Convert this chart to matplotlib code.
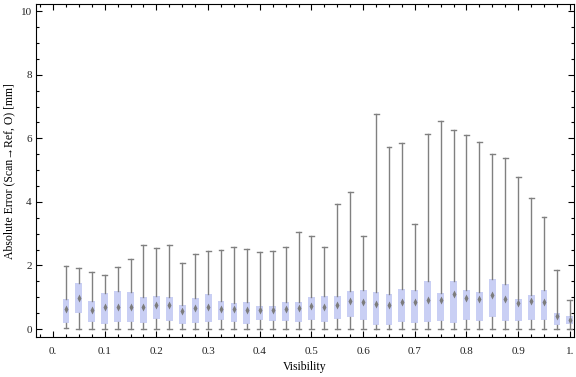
import numpy as np
import matplotlib
matplotlib.use("Agg")
import matplotlib.pyplot as plt
from matplotlib.ticker import MultipleLocator, FixedLocator

# visibility bins (box positions)
visibility = [0.025, 0.05, 0.075, 0.1, 0.125, 0.15, 0.175, 0.2, 0.225, 0.25,
              0.275, 0.3, 0.325, 0.35, 0.375, 0.4, 0.425, 0.45, 0.475, 0.5,
              0.525, 0.55, 0.575, 0.6, 0.625, 0.65, 0.675, 0.7, 0.725, 0.75,
              0.775, 0.8, 0.825, 0.85, 0.875, 0.9, 0.925, 0.95, 0.975, 1.0]

# box-whisker stats (mm)
whisker_lo = [0.04, 0, 0, 0, 0, 0, 0, 0, 0, 0,
              0, 0, 0, 0, 0, 0, 0, 0, 0, 0,
              0, 0, 0, 0, 0, 0, 0, 0, 0, 0,
              0, 0, 0, 0, 0, 0, 0, 0, 0, 0]
q1 = [0.20, 0.51, 0.21, 0.17, 0.21, 0.23, 0.18, 0.31, 0.26, 0.17,
      0.20, 0.23, 0.29, 0.22, 0.17, 0.29, 0.25, 0.25, 0.22, 0.28,
      0.22, 0.32, 0.38, 0.28, 0.13, 0.13, 0.23, 0.20, 0.21, 0.26,
      0.20, 0.29, 0.27, 0.38, 0.26, 0.26, 0.29, 0.29, 0.14, 0.17]
median = [0.63, 0.99, 0.60, 0.68, 0.70, 0.70, 0.71, 0.77, 0.75, 0.57,
          0.66, 0.68, 0.64, 0.63, 0.59, 0.60, 0.59, 0.63, 0.67, 0.74,
          0.71, 0.75, 0.87, 0.86, 0.80, 0.75, 0.86, 0.86, 0.93, 0.92,
          1.09, 0.99, 0.94, 1.06, 0.94, 0.83, 0.88, 0.85, 0.40, 0.28]
q3 = [0.96, 1.46, 0.88, 1.12, 1.19, 1.16, 1.01, 1.04, 1.02, 0.75,
      0.97, 1.10, 0.89, 0.82, 0.85, 0.74, 0.74, 0.85, 0.85, 1.00,
      1.04, 1.04, 1.19, 1.23, 1.16, 1.10, 1.25, 1.22, 1.50, 1.15,
      1.50, 1.22, 1.16, 1.56, 1.41, 0.96, 1.06, 1.23, 0.50, 0.41]
whisker_hi = [1.98, 1.91, 1.78, 1.70, 1.94, 2.22, 2.66, 2.54, 2.64, 2.07,
              2.35, 2.45, 2.48, 2.58, 2.51, 2.44, 2.47, 2.57, 3.04, 2.92,
              2.58, 3.92, 4.30, 2.92, 6.78, 5.74, 5.84, 3.29, 6.13, 6.53,
              6.25, 6.09, 5.90, 5.52, 5.37, 4.77, 4.11, 3.54, 1.85, 0.90]

x_ticks = [0.0, 0.1, 0.2, 0.3, 0.4, 0.5, 0.6, 0.7, 0.8, 0.9, 1.0]
x_ticklabels = ["0.", "0.1", "0.2", "0.3", "0.4", "0.5", "0.6", "0.7", "0.8", "0.9", "1."]

box_color = "#c9cff4"
line_color = "#808080"

plt.rcParams["font.family"] = ["Liberation Serif", "DejaVu Serif"]

fig = plt.figure(figsize=(5.76, 3.77), dpi=100)
ax = fig.add_axes([0.0625, 0.106, 0.934, 0.883])

stats = []
for lo, a, m, b, hi in zip(whisker_lo, q1, median, q3, whisker_hi):
    stats.append(dict(whislo=lo, q1=a, med=m, q3=b, whishi=hi))

ax.bxp(stats, positions=visibility, widths=0.0132, patch_artist=True,
       showfliers=False, manage_ticks=False, capwidths=0.0095,
       boxprops=dict(facecolor=box_color, edgecolor="none", linewidth=0),
       whiskerprops=dict(color=line_color, linewidth=1.0),
       capprops=dict(color=line_color, linewidth=1.0),
       medianprops=dict(visible=False))

# diamond median markers
ax.plot(visibility, median, linestyle="none", marker="d", markersize=4.2,
        markerfacecolor="#7c7c7c", markeredgecolor="none", zorder=5)

ax.set_xlim(-0.033, 1.008)
ax.set_ylim(-0.25, 10.22)

ax.xaxis.set_major_locator(FixedLocator(x_ticks))
ax.set_xticklabels(x_ticklabels)
ax.xaxis.set_minor_locator(MultipleLocator(0.025))
ax.yaxis.set_major_locator(MultipleLocator(2))
ax.yaxis.set_minor_locator(MultipleLocator(0.5))

ax.tick_params(which="both", direction="in", top=True, right=True,
               labelsize=8, labelcolor="#222222", width=0.8)
ax.tick_params(which="major", length=4)
ax.tick_params(which="minor", length=2.5)
ax.tick_params(axis="x", which="major", pad=7)
ax.tick_params(axis="y", which="major", pad=3)
for sp in ax.spines.values():
    sp.set_linewidth(0.8)

ax.set_xlabel("Visibility", fontsize=8.5, labelpad=4)
ax.set_ylabel("Absolute Error (Scan\u2192Ref, O) [mm]", fontsize=8.5, labelpad=4)

fig.savefig("out.png", dpi=100)
